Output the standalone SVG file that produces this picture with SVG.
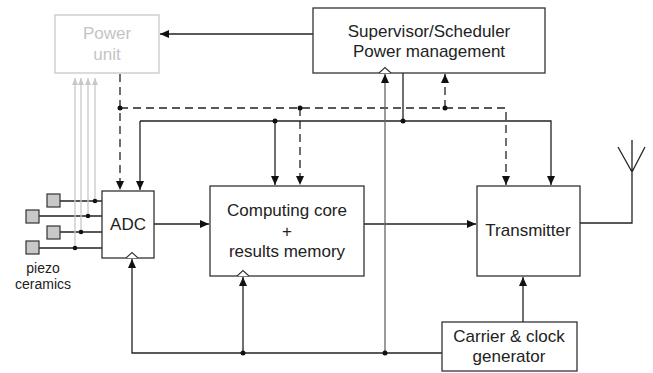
<svg xmlns="http://www.w3.org/2000/svg" width="653" height="373" viewBox="0 0 653 373">
<style>
.box{fill:#fff;stroke:#333;stroke-width:1.3}
.pbox{fill:#fff;stroke:#c8c8c8;stroke-width:1.3}
.t{font-family:"Liberation Sans",Arial,sans-serif;font-size:17px;fill:#222;text-anchor:middle}
.pt{font-family:"Liberation Sans",Arial,sans-serif;font-size:17px;fill:#c4c4c4;text-anchor:middle}
.st{font-family:"Liberation Sans",Arial,sans-serif;font-size:14px;fill:#222;text-anchor:middle}
.ln{fill:none;stroke:#222;stroke-width:1.3}
.gl{fill:none;stroke:#666;stroke-width:1.3}
.dl{fill:none;stroke:#222;stroke-width:1.3;stroke-dasharray:8 5}
.lg{fill:none;stroke:#c8c8c8;stroke-width:1.3}
.dot{fill:#111}
.pz{fill:#c8c8c8;stroke:#333;stroke-width:1.2}
.chev{fill:#fff;stroke:#333;stroke-width:1.1}
</style>
<defs>
<marker id="ah" markerUnits="userSpaceOnUse" markerWidth="10" markerHeight="8" refX="9" refY="4" orient="auto">
<path d="M0,0 L9,4 L0,8 Z" fill="#111"/>
</marker>
<marker id="ahg" markerUnits="userSpaceOnUse" markerWidth="8" markerHeight="6" refX="7" refY="3" orient="auto">
<path d="M0,0 L7,3 L0,6 Z" fill="#c8c8c8"/>
</marker>
</defs>

<g id="connectors">
<!-- supervisor to power unit -->
<path class="ln" d="M313,34 H160" marker-end="url(#ah)"/>
<!-- dashed power bus -->
<path class="dl" d="M120,74 V190" marker-end="url(#ah)"/>
<path class="dl" d="M120,108 H506 V185" marker-end="url(#ah)"/>
<path class="dl" d="M300,108 V185" marker-end="url(#ah)"/>
<path class="dl" d="M445,108 V74" marker-end="url(#ah)"/>
<!-- solid control bus -->
<path class="ln" d="M403,73 V121"/>
<path class="ln" d="M140,121 V190" marker-end="url(#ah)"/>
<path class="ln" d="M140,121 H551 V185" marker-end="url(#ah)"/>
<path class="ln" d="M275,121 V185" marker-end="url(#ah)"/>
<!-- data path -->
<path class="ln" d="M154,224 H209" marker-end="url(#ah)"/>
<path class="ln" d="M364,224 H476" marker-end="url(#ah)"/>
<!-- antenna -->
<path class="ln" d="M580,223 H632 V140 M632,172 L618,147 M632,172 L645,147"/>
<!-- clock distribution -->
<path class="ln" d="M442,353 H132 V259" marker-end="url(#ah)"/>
<path class="ln" d="M243,353 V277" marker-end="url(#ah)"/>
<path class="gl" d="M385,353 V74" marker-end="url(#ah)"/>
<path class="ln" d="M523,322 V277" marker-end="url(#ah)"/>
<!-- piezo lines -->
<path class="ln" d="M60,201 H102 M39,216 H102 M60,232 H102 M39,248 H102"/>
<path class="lg" d="M95,201 V78" marker-end="url(#ahg)"/>
<path class="lg" d="M88,216 V78" marker-end="url(#ahg)"/>
<path class="lg" d="M81,232 V78" marker-end="url(#ahg)"/>
<path class="lg" d="M75,248 V78" marker-end="url(#ahg)"/>
<!-- junction dots -->
<circle class="dot" cx="120" cy="108" r="2.5"/>
<circle class="dot" cx="300" cy="108" r="2.5"/>
<circle class="dot" cx="445" cy="108" r="2.5"/>
<circle class="dot" cx="275" cy="121" r="2.5"/>
<circle class="dot" cx="403" cy="121" r="2.5"/>
<circle class="dot" cx="243" cy="353" r="2.5"/>
<circle class="dot" cx="385" cy="353" r="2.5"/>
<circle class="dot" cx="95" cy="201" r="2.3"/>
<circle class="dot" cx="88" cy="216" r="2.3"/>
<circle class="dot" cx="81" cy="232" r="2.3"/>
<circle class="dot" cx="75" cy="248" r="2.3"/>
</g>

<g id="power-unit">
<rect class="pbox" x="55" y="15" width="104" height="58"/>
<text class="pt" x="107" y="39">Power</text>
<text class="pt" x="107" y="60">unit</text>
</g>

<g id="supervisor">
<rect class="box" x="313" y="8" width="232" height="65"/>
<text class="t" x="429" y="37">Supervisor/Scheduler</text>
<text class="t" x="429" y="57">Power management</text>
<path class="chev" d="M379,73 L385,67.5 L391,73"/>
</g>

<g id="adc">
<rect class="box" x="102" y="191" width="52" height="67"/>
<text class="t" x="128" y="230">ADC</text>
<path class="chev" d="M126,258 L132,252.5 L138,258"/>
</g>

<g id="computing-core">
<rect class="box" x="210" y="186" width="154" height="90"/>
<text class="t" x="287" y="216">Computing core</text>
<text class="t" x="287" y="237">+</text>
<text class="t" x="287" y="257">results memory</text>
<path class="chev" d="M237,276 L243,270.5 L249,276"/>
</g>

<g id="transmitter">
<rect class="box" x="477" y="186" width="103" height="90"/>
<text class="t" x="528" y="236">Transmitter</text>
</g>

<g id="carrier">
<rect class="box" x="442" y="322" width="135" height="49"/>
<text class="t" x="509" y="342">Carrier &amp; clock</text>
<text class="t" x="509" y="362">generator</text>
</g>

<g id="piezo">
<rect class="pz" x="47" y="194" width="13" height="13"/>
<rect class="pz" x="26" y="210" width="13" height="13"/>
<rect class="pz" x="47" y="226" width="13" height="13"/>
<rect class="pz" x="26" y="241" width="13" height="13"/>
<text class="st" x="43" y="273">piezo</text>
<text class="st" x="43" y="289">ceramics</text>
</g>
</svg>
